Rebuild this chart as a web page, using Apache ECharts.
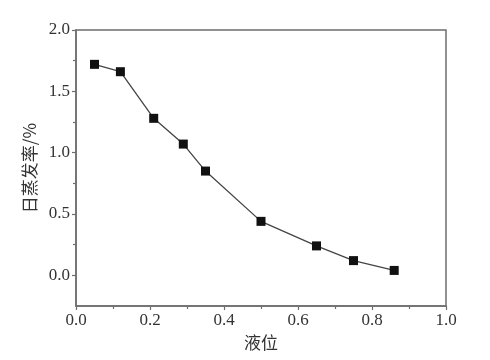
<!DOCTYPE html>
<html><head><meta charset="utf-8">
<script src="https://cdn.jsdelivr.net/npm/echarts@6/dist/echarts.min.js"></script>
<style>html,body{margin:0;padding:0;background:#fff}#c{width:490px;height:360px}</style>
</head><body><div id="c"></div>
<script>
const xValues = [0.05, 0.12, 0.21, 0.29, 0.35, 0.50, 0.65, 0.75, 0.86];
const yValues = [1.72, 1.66, 1.28, 1.07, 0.85, 0.44, 0.24, 0.12, 0.04];
const yMajorTicks = [0, 0.5, 1.0, 1.5, 2.0];
const yMinorTicks = [0.25, 0.75, 1.25, 1.75];
const xTitle = '液位';
const yTitle = '日蒸发率/%';

const chart = echarts.init(document.getElementById('c'));
const font = '"Liberation Serif", "Noto Sans CJK SC", serif';
const cjk = '"Noto Sans CJK SC", "Liberation Serif", serif';
const axisColor = '#6e6e6e';
chart.setOption({
  animation: false,
  grid: {left: 76, right: 44, top: 30, bottom: 54, show: true, borderColor: axisColor, borderWidth: 1.5, backgroundColor: 'transparent'},
  xAxis: {
    type: 'value', min: 0, max: 1, interval: 0.2,
    name: xTitle, nameLocation: 'middle', nameGap: 26,
    nameTextStyle: {fontFamily: cjk, fontSize: 17, color: '#333'},
    axisLine: {onZero: false, lineStyle: {color: axisColor, width: 1.5}},
    axisTick: {show: true, inside: false, length: 4, lineStyle: {color: axisColor, width: 1.2}},
    minorTick: {show: true, splitNumber: 2, length: 3, lineStyle: {color: axisColor, width: 1.2}},
    splitLine: {show: false},
    axisLabel: {fontFamily: font, fontSize: 17, color: '#333', margin: 6, formatter: v => v.toFixed(1)}
  },
  yAxis: [{
    type: 'value', min: -0.25, max: 2.0,
    name: yTitle, nameLocation: 'middle', nameGap: 38, nameRotate: 90,
    nameTextStyle: {fontFamily: cjk, fontSize: 17, color: '#333'},
    axisLine: {show: true, onZero: false, lineStyle: {color: axisColor, width: 1.5}},
    axisTick: {show: true, inside: false, length: 4, customValues: yMajorTicks, lineStyle: {color: axisColor, width: 1.2}},
    splitLine: {show: false},
    axisLabel: {fontFamily: font, fontSize: 17, color: '#333', margin: 6, customValues: yMajorTicks, formatter: v => v.toFixed(1)}
  }, {
    type: 'value', min: -0.25, max: 2.0, position: 'left',
    axisLine: {show: false, onZero: false},
    axisTick: {show: true, inside: false, length: 3, customValues: yMinorTicks, lineStyle: {color: axisColor, width: 1.2}},
    axisLabel: {show: false},
    splitLine: {show: false}
  }],
  series: [{
    type: 'line',
    data: xValues.map((x, i) => [x, yValues[i]]),
    symbol: 'rect', symbolSize: 9,
    itemStyle: {color: '#111'},
    lineStyle: {color: '#444', width: 1.3}
  }]
});
</script></body></html>
